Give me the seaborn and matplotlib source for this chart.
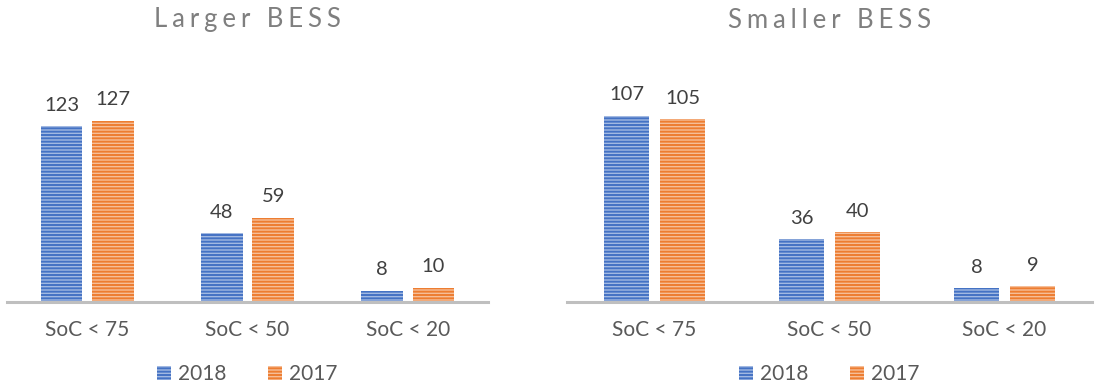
import matplotlib
matplotlib.use("Agg")
import matplotlib.pyplot as plt
from matplotlib.patches import Patch
from matplotlib.colors import to_rgb
import seaborn as sns
import pandas as pd

# Data
categories = ["SoC < 75", "SoC < 50", "SoC < 20"]
years = ["2018", "2017"]
larger_2018 = [123, 48, 8]
larger_2017 = [127, 59, 10]
smaller_2018 = [107, 36, 8]
smaller_2017 = [105, 40, 9]

sns.set_theme(style="white")
plt.rcParams["font.family"] = ["Lato", "DejaVu Sans"]
plt.rcParams["hatch.linewidth"] = 1.4

colors = {"2018": "#4472C4", "2017": "#ED7D31"}


def tint(c, f):
    r, g, b = to_rgb(c)
    return (r + (1 - r) * f, g + (1 - g) * f, b + (1 - b) * f)


def spaced(s):
    # widen the letter spacing of the panel titles
    return "\u2009\u200a".join(s)


fig = plt.figure(figsize=(10.97, 3.87), dpi=100)
bottom = 1 - 302 / 387
height = 200 / 387
ax1 = fig.add_axes([7 / 1097, bottom, 481 / 1097, height])
ax2 = fig.add_axes([567 / 1097, bottom, 525 / 1097, height])

panels = [
    (ax1, "Larger BESS", larger_2018, larger_2017, 140),
    (ax2, "Smaller BESS", smaller_2018, smaller_2017, 115),
]

for ax, title, v18, v17, ymax in panels:
    df = pd.DataFrame({
        "category": categories * 2,
        "year": [years[0]] * 3 + [years[1]] * 3,
        "value": v18 + v17,
    })
    sns.barplot(data=df, x="category", y="value", hue="year",
                hue_order=years, order=categories, palette=colors,
                width=0.64, gap=0.19, ax=ax, legend=False)
    for cont, yr in zip(ax.containers, years):
        for p in cont:
            p.set_facecolor(tint(colors[yr], 0.5))
            p.set_edgecolor(colors[yr])
            p.set_linewidth(0)
            p.set_hatch("-----")
        ax.bar_label(cont, labels=[str(int(round(p.get_height()))) for p in cont],
                     padding=9, fontsize=14.5, color="#404040")
    ax.set_xlim(-0.5, 2.5)
    ax.set_ylim(0, ymax)
    ax.set_xlabel("")
    ax.set_ylabel("")
    ax.set_yticks([])
    ax.tick_params(axis="x", length=0, pad=13, labelsize=15, labelcolor="#595959")
    for s in ["top", "right", "left"]:
        ax.spines[s].set_visible(False)
    ax.spines["bottom"].set_color("#BFBFBF")
    ax.spines["bottom"].set_linewidth(2.2)
    ax.set_title(spaced(title), fontsize=18.5, color="#7F7F7F", pad=0,
                 y=(302 - 20) / 200, va="center")

    handles = [Patch(facecolor=tint(colors[y], 0.5), edgecolor=colors[y],
                     linewidth=0, hatch="-----", label=y) for y in years]
    ax.legend(handles=handles, loc="center", bbox_to_anchor=(0.5, -(374 - 302) / 200),
              ncol=2, frameon=False, fontsize=15, labelcolor="#595959",
              handlelength=0.65, handleheight=0.65, handletextpad=0.35,
              columnspacing=2.0)

fig.savefig("out.png", dpi=100)
